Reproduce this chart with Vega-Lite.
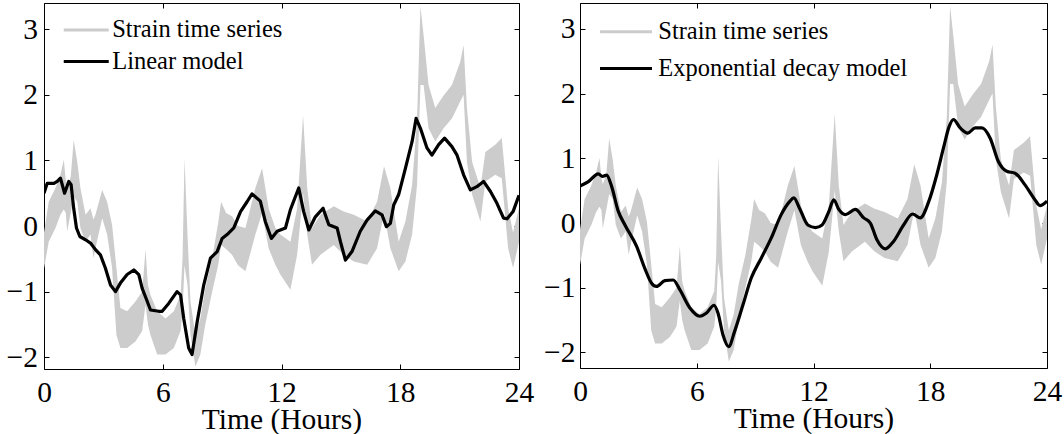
{
  "$schema": "https://vega.github.io/schema/vega-lite/v6.json",
  "background": "white",
  "padding": {"left": 0, "top": 2, "right": 0, "bottom": 0},
  "spacing": 61,
  "bounds": "flush",
  "config": {
    "view": {"stroke": "black", "strokeWidth": 1},
    "axis": {
      "grid": false, "domain": false,
      "tickColor": "black", "tickSize": -5, "tickWidth": 1,
      "labelFont": "Liberation Serif", "labelFontSize": 29.5, "labelColor": "black",
      "titleFont": "Liberation Serif", "titleFontSize": 29.5, "titleFontWeight": "normal", "titleColor": "black",
      "labelFlush": false, "labelOverlap": false
    },
    "legend": {
      "labelFont": "Liberation Serif", "labelFontSize": 24.5, "labelColor": "black",
      "labelLimit": 400, "padding": 0
    }
  },
  "datasets": {
    "strain": [
      {"t": 0.0, "lo": -0.65, "hi": -0.1},
      {"t": 0.24, "lo": -0.24, "hi": 0.37},
      {"t": 0.58, "lo": -0.03, "hi": 0.58},
      {"t": 0.83, "lo": 0.17, "hi": 0.78},
      {"t": 1.0, "lo": 0.25, "hi": 1.01},
      {"t": 1.1, "lo": 0.2, "hi": 0.7},
      {"t": 1.17, "lo": -0.08, "hi": 0.6},
      {"t": 1.35, "lo": 0.2, "hi": 0.75},
      {"t": 1.5, "lo": 0.45, "hi": 1.31},
      {"t": 1.68, "lo": 0.37, "hi": 0.98},
      {"t": 1.84, "lo": -0.03, "hi": 0.58},
      {"t": 2.1, "lo": -0.24, "hi": 0.17},
      {"t": 2.35, "lo": -0.13, "hi": 0.27},
      {"t": 2.5, "lo": -0.49, "hi": 0.1},
      {"t": 2.6, "lo": -0.34, "hi": 0.17},
      {"t": 2.94, "lo": 0.12, "hi": 0.55},
      {"t": 3.19, "lo": -0.13, "hi": 0.37},
      {"t": 3.44, "lo": -0.64, "hi": 0.02},
      {"t": 3.66, "lo": -1.66, "hi": -0.64},
      {"t": 3.86, "lo": -1.86, "hi": -1.25},
      {"t": 4.2, "lo": -1.86, "hi": -1.3},
      {"t": 4.62, "lo": -1.76, "hi": -1.15},
      {"t": 4.96, "lo": -1.6, "hi": -1.0},
      {"t": 5.13, "lo": -1.2, "hi": -0.36},
      {"t": 5.25, "lo": -1.5, "hi": -0.9},
      {"t": 5.38, "lo": -1.66, "hi": -1.05},
      {"t": 5.72, "lo": -1.96, "hi": -1.3},
      {"t": 6.14, "lo": -1.96, "hi": -1.41},
      {"t": 6.56, "lo": -1.86, "hi": -1.3},
      {"t": 6.9, "lo": -1.6, "hi": -1.05},
      {"t": 7.0, "lo": -1.3, "hi": -0.5},
      {"t": 7.1, "lo": -0.6, "hi": 1.03},
      {"t": 7.25, "lo": -0.9, "hi": -0.13},
      {"t": 7.4, "lo": -1.66, "hi": -1.15},
      {"t": 7.65, "lo": -2.14, "hi": -1.66},
      {"t": 7.9, "lo": -1.96, "hi": -1.41},
      {"t": 8.15, "lo": -1.5, "hi": -0.95},
      {"t": 8.5, "lo": -1.0, "hi": -0.49},
      {"t": 8.8, "lo": -0.6, "hi": 0.05},
      {"t": 8.95, "lo": -0.29, "hi": 0.37},
      {"t": 9.2, "lo": -0.35, "hi": 0.2},
      {"t": 9.5, "lo": -0.44, "hi": 0.15},
      {"t": 9.8, "lo": -0.6, "hi": 0.0},
      {"t": 10.18, "lo": -0.69, "hi": -0.03},
      {"t": 10.68, "lo": -0.13, "hi": 0.58},
      {"t": 11.02, "lo": 0.2, "hi": 0.88},
      {"t": 11.35, "lo": -0.34, "hi": 0.27},
      {"t": 11.69, "lo": -0.59, "hi": -0.03},
      {"t": 11.94, "lo": -0.74, "hi": -0.13},
      {"t": 12.45, "lo": -0.97, "hi": -0.24},
      {"t": 12.79, "lo": -0.44, "hi": 0.27},
      {"t": 13.09, "lo": 0.5, "hi": 1.69},
      {"t": 13.3, "lo": -0.13, "hi": 0.58},
      {"t": 13.54, "lo": -0.59, "hi": -0.03},
      {"t": 13.97, "lo": -0.44, "hi": 0.17},
      {"t": 14.64, "lo": -0.29, "hi": 0.3},
      {"t": 15.14, "lo": -0.44, "hi": 0.22},
      {"t": 15.65, "lo": -0.54, "hi": 0.17},
      {"t": 16.33, "lo": -0.59, "hi": 0.07},
      {"t": 16.83, "lo": -0.34, "hi": 0.37},
      {"t": 17.18, "lo": 0.2, "hi": 0.91},
      {"t": 17.5, "lo": -0.34, "hi": 0.58},
      {"t": 17.92, "lo": -0.69, "hi": -0.24},
      {"t": 18.26, "lo": -0.54, "hi": 0.07},
      {"t": 18.6, "lo": -0.13, "hi": 0.63},
      {"t": 18.85, "lo": 0.63, "hi": 1.64},
      {"t": 19.02, "lo": 2.15, "hi": 3.35},
      {"t": 19.18, "lo": 2.15, "hi": 2.91},
      {"t": 19.43, "lo": 1.49, "hi": 2.15},
      {"t": 19.77, "lo": 1.29, "hi": 1.8},
      {"t": 20.19, "lo": 1.49, "hi": 1.99},
      {"t": 20.61, "lo": 1.64, "hi": 2.15},
      {"t": 21.03, "lo": 1.9, "hi": 2.5},
      {"t": 21.2, "lo": 2.0, "hi": 2.76},
      {"t": 21.37, "lo": 0.98, "hi": 1.8},
      {"t": 21.63, "lo": 0.48, "hi": 0.98},
      {"t": 22.05, "lo": 0.07, "hi": 0.58},
      {"t": 22.3, "lo": 0.68, "hi": 1.13},
      {"t": 22.8, "lo": 0.78, "hi": 1.24},
      {"t": 23.13, "lo": 0.73, "hi": 1.34},
      {"t": 23.45, "lo": -0.34, "hi": 0.27},
      {"t": 23.7, "lo": -0.64, "hi": -0.1},
      {"t": 24.0, "lo": -0.24, "hi": 0.27}
    ],
    "linear": [
      {"t": 0, "v": 0.5}, {"t": 0.16, "v": 0.65}, {"t": 0.5, "v": 0.65}, {"t": 0.67, "v": 0.68},
      {"t": 0.83, "v": 0.73}, {"t": 1.04, "v": 0.5}, {"t": 1.25, "v": 0.68}, {"t": 1.37, "v": 0.63},
      {"t": 1.5, "v": 0.27}, {"t": 1.64, "v": -0.03}, {"t": 1.81, "v": -0.16}, {"t": 2.1, "v": -0.21},
      {"t": 2.35, "v": -0.26}, {"t": 2.6, "v": -0.36}, {"t": 2.85, "v": -0.44}, {"t": 3.1, "v": -0.64},
      {"t": 3.36, "v": -0.9}, {"t": 3.61, "v": -1.0}, {"t": 3.86, "v": -0.87}, {"t": 4.2, "v": -0.74},
      {"t": 4.54, "v": -0.67}, {"t": 4.79, "v": -0.74}, {"t": 4.96, "v": -0.95}, {"t": 5.18, "v": -1.12},
      {"t": 5.38, "v": -1.28}, {"t": 5.8, "v": -1.3}, {"t": 5.97, "v": -1.3}, {"t": 6.3, "v": -1.18},
      {"t": 6.72, "v": -1.0}, {"t": 6.9, "v": -1.05}, {"t": 7.06, "v": -1.41}, {"t": 7.31, "v": -1.86},
      {"t": 7.48, "v": -1.96}, {"t": 7.74, "v": -1.46}, {"t": 8.07, "v": -0.9}, {"t": 8.41, "v": -0.49},
      {"t": 8.75, "v": -0.39}, {"t": 9.0, "v": -0.19}, {"t": 9.25, "v": -0.13}, {"t": 9.59, "v": -0.03},
      {"t": 9.93, "v": 0.22}, {"t": 10.26, "v": 0.37}, {"t": 10.51, "v": 0.49}, {"t": 10.93, "v": 0.38},
      {"t": 11.18, "v": 0.07}, {"t": 11.49, "v": -0.19}, {"t": 11.78, "v": -0.08}, {"t": 12.2, "v": -0.03},
      {"t": 12.45, "v": 0.25}, {"t": 12.87, "v": 0.58}, {"t": 13.12, "v": 0.22}, {"t": 13.38, "v": -0.06},
      {"t": 13.71, "v": 0.14}, {"t": 14.1, "v": 0.27}, {"t": 14.39, "v": 0.02}, {"t": 14.81, "v": -0.03},
      {"t": 14.98, "v": -0.24}, {"t": 15.23, "v": -0.52}, {"t": 15.56, "v": -0.39}, {"t": 15.98, "v": -0.08},
      {"t": 16.32, "v": 0.09}, {"t": 16.74, "v": 0.23}, {"t": 17.08, "v": 0.17}, {"t": 17.3, "v": -0.01},
      {"t": 17.5, "v": 0.04}, {"t": 17.67, "v": 0.32}, {"t": 17.92, "v": 0.48}, {"t": 18.26, "v": 0.88},
      {"t": 18.6, "v": 1.29}, {"t": 18.8, "v": 1.64}, {"t": 19.02, "v": 1.49}, {"t": 19.35, "v": 1.19},
      {"t": 19.6, "v": 1.08}, {"t": 19.94, "v": 1.24}, {"t": 20.24, "v": 1.34}, {"t": 20.61, "v": 1.21},
      {"t": 20.87, "v": 1.08}, {"t": 21.2, "v": 0.78}, {"t": 21.54, "v": 0.55}, {"t": 21.87, "v": 0.6},
      {"t": 22.21, "v": 0.68}, {"t": 22.55, "v": 0.53}, {"t": 22.88, "v": 0.35}, {"t": 23.22, "v": 0.12},
      {"t": 23.4, "v": 0.11}, {"t": 23.7, "v": 0.22}, {"t": 24, "v": 0.47}
    ],
    "expo": [
      {"t": 0, "v": 0.57}, {"t": 0.43, "v": 0.64}, {"t": 0.94, "v": 0.76}, {"t": 1.15, "v": 0.72},
      {"t": 1.37, "v": 0.74}, {"t": 1.62, "v": 0.57}, {"t": 1.97, "v": 0.18}, {"t": 2.31, "v": -0.03},
      {"t": 2.91, "v": -0.36}, {"t": 3.33, "v": -0.7}, {"t": 3.68, "v": -0.93}, {"t": 3.93, "v": -0.98},
      {"t": 4.36, "v": -0.89}, {"t": 4.79, "v": -0.88}, {"t": 5.13, "v": -1.03}, {"t": 5.64, "v": -1.31},
      {"t": 6.15, "v": -1.44}, {"t": 6.5, "v": -1.39}, {"t": 6.89, "v": -1.27}, {"t": 7.09, "v": -1.39},
      {"t": 7.35, "v": -1.73}, {"t": 7.64, "v": -1.91}, {"t": 7.95, "v": -1.67}, {"t": 8.38, "v": -1.26},
      {"t": 8.8, "v": -0.85}, {"t": 9.32, "v": -0.54}, {"t": 9.83, "v": -0.23}, {"t": 10.34, "v": 0.13},
      {"t": 10.77, "v": 0.33}, {"t": 10.99, "v": 0.39}, {"t": 11.28, "v": 0.23}, {"t": 11.71, "v": -0.03},
      {"t": 12.1, "v": -0.07}, {"t": 12.44, "v": -0.03}, {"t": 12.79, "v": 0.18}, {"t": 13.04, "v": 0.36},
      {"t": 13.3, "v": 0.21}, {"t": 13.64, "v": 0.13}, {"t": 14.15, "v": 0.21}, {"t": 14.58, "v": 0.08},
      {"t": 14.92, "v": 0.0}, {"t": 15.26, "v": -0.26}, {"t": 15.69, "v": -0.4}, {"t": 16.12, "v": -0.28},
      {"t": 16.63, "v": -0.03}, {"t": 17.09, "v": 0.14}, {"t": 17.49, "v": 0.08}, {"t": 17.92, "v": 0.33},
      {"t": 18.34, "v": 0.75}, {"t": 18.68, "v": 1.16}, {"t": 18.97, "v": 1.49}, {"t": 19.19, "v": 1.6},
      {"t": 19.54, "v": 1.47}, {"t": 19.93, "v": 1.39}, {"t": 20.31, "v": 1.47}, {"t": 20.65, "v": 1.47},
      {"t": 21.08, "v": 1.31}, {"t": 21.5, "v": 0.95}, {"t": 21.93, "v": 0.8}, {"t": 22.36, "v": 0.77},
      {"t": 22.87, "v": 0.59}, {"t": 23.38, "v": 0.36}, {"t": 23.64, "v": 0.27}, {"t": 24, "v": 0.34}
    ]
  },
  "resolve": {"scale": {"x": "independent", "y": "independent", "color": "independent"}},
  "hconcat": [
    {
      "width": 475,
      "height": 366,
      "resolve": {"axis": {"x": "independent", "y": "independent"}},
      "layer": [
        {
          "data": {"name": "strain"},
          "mark": {"type": "area", "clip": true},
          "encoding": {
            "x": {"field": "t", "type": "quantitative",
                  "scale": {"domain": [0, 24], "nice": false},
                  "axis": {"orient": "bottom", "values": [0, 6, 12, 18, 24], "title": "Time (Hours)", "labelPadding": 14, "titlePadding": -1.5}},
            "y": {"field": "lo", "type": "quantitative",
                  "scale": {"domain": [-2.18, 3.4], "nice": false, "zero": false},
                  "axis": {"orient": "left", "values": [-2, -1, 0, 1, 2, 3], "title": null, "labelPadding": 11.5, "minExtent": 43.5, "maxExtent": 43.5}},
            "y2": {"field": "hi"},
            "color": {"datum": "Strain time series", "type": "nominal",
                      "scale": {"domain": ["Strain time series", "Linear model"], "range": ["#cccccc", "black"]},
                      "legend": {
                        "orient": "none", "legendX": 30, "legendY": 14.75, "title": null,
                        "symbolType": "M-3,0H3", "symbolSize": 225, "symbolStrokeWidth": 3,
                        "labelOffset": 13.7, "rowPadding": 6.5, "symbolOffset": 0,
                        "encode": {"symbols": {"update": {
                          "fill": {"value": "transparent"},
                          "stroke": {"value": {"expr": "(datum.value === 'Strain time series' ? '#dedede' : 'black')"}},
                          "opacity": {"value": 1}
                        }}}
                      }}
          }
        },
        {
          "data": {"name": "linear"},
          "mark": {"type": "line", "strokeWidth": 3.2, "strokeJoin": "round", "clip": true},
          "encoding": {
            "x": {"field": "t", "type": "quantitative",
                  "axis": {"orient": "top", "values": [0, 6, 12, 18, 24], "labels": false, "title": null, "minExtent": 0, "maxExtent": 0}},
            "y": {"field": "v", "type": "quantitative",
                  "axis": {"orient": "right", "values": [-2, -1, 0, 1, 2, 3], "labels": false, "title": null, "minExtent": 0, "maxExtent": 0}},
            "color": {"datum": "Linear model", "type": "nominal"}
          }
        }
      ]
    },
    {
      "width": 467,
      "height": 365,
      "resolve": {"axis": {"x": "independent", "y": "independent"}},
      "layer": [
        {
          "data": {"name": "strain"},
          "mark": {"type": "area", "clip": true},
          "encoding": {
            "x": {"field": "t", "type": "quantitative",
                  "scale": {"domain": [0, 24], "nice": false},
                  "axis": {"orient": "bottom", "values": [0, 6, 12, 18, 24], "title": "Time (Hours)", "labelPadding": 14, "titlePadding": -1.5}},
            "y": {"field": "lo", "type": "quantitative",
                  "scale": {"domain": [-2.24, 3.4], "nice": false, "zero": false},
                  "axis": {"orient": "left", "values": [-2, -1, 0, 1, 2, 3], "title": null, "labelPadding": 10, "minExtent": 43.5, "maxExtent": 43.5}},
            "y2": {"field": "hi"},
            "color": {"datum": "Strain time series", "type": "nominal",
                      "scale": {"domain": ["Strain time series", "Exponential decay model"], "range": ["#cccccc", "black"]},
                      "legend": {
                        "orient": "none", "legendX": 33.75, "legendY": 16.45, "title": null,
                        "symbolType": "M-3,0H3", "symbolSize": 300, "symbolStrokeWidth": 3,
                        "labelOffset": 20, "rowPadding": 11.8, "symbolOffset": 0,
                        "encode": {"symbols": {"update": {
                          "fill": {"value": "transparent"},
                          "stroke": {"value": {"expr": "(datum.value === 'Strain time series' ? '#dedede' : 'black')"}},
                          "opacity": {"value": 1}
                        }}}
                      }}
          }
        },
        {
          "data": {"name": "expo"},
          "mark": {"type": "line", "strokeWidth": 3.2, "strokeJoin": "round", "interpolate": "monotone", "clip": true},
          "encoding": {
            "x": {"field": "t", "type": "quantitative",
                  "axis": {"orient": "top", "values": [0, 6, 12, 18, 24], "labels": false, "title": null, "minExtent": 0, "maxExtent": 0}},
            "y": {"field": "v", "type": "quantitative",
                  "axis": {"orient": "right", "values": [-2, -1, 0, 1, 2, 3], "labels": false, "title": null, "minExtent": 0, "maxExtent": 0}},
            "color": {"datum": "Exponential decay model", "type": "nominal"}
          }
        }
      ]
    }
  ]
}
